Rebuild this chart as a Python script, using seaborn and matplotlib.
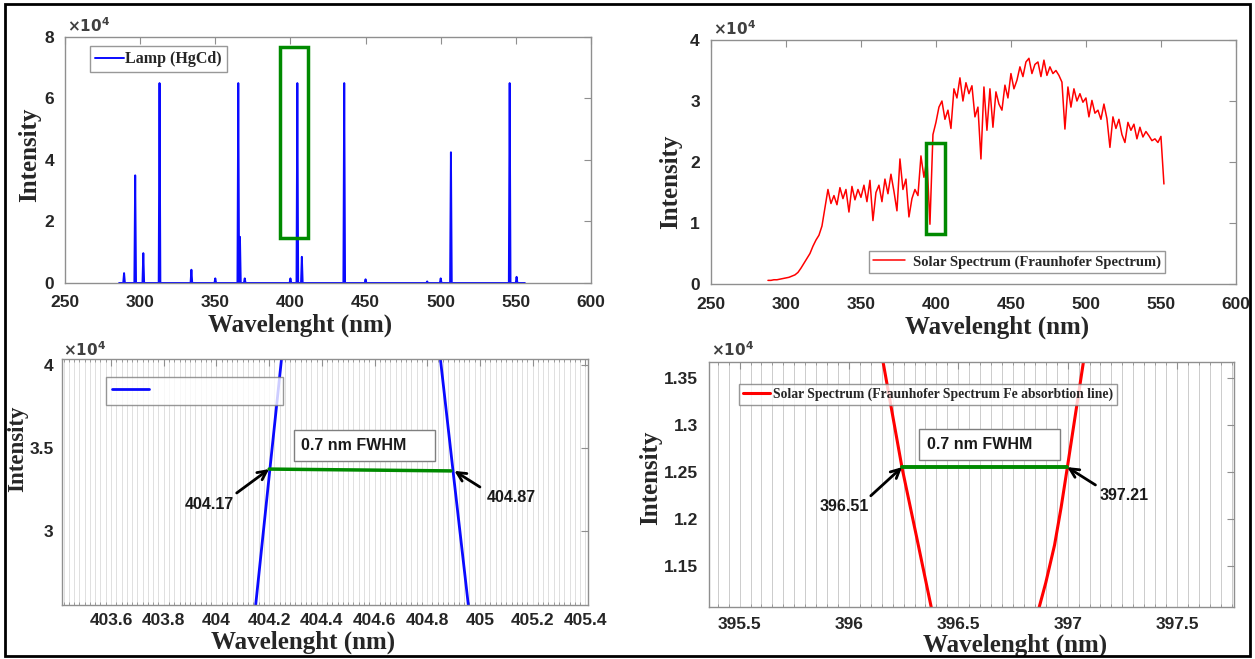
import numpy as np
import pandas as pd
import matplotlib
matplotlib.use("Agg")
import matplotlib.pyplot as plt
import seaborn as sns
from matplotlib.patches import Rectangle
from matplotlib.ticker import FuncFormatter, MultipleLocator, FixedLocator
from matplotlib.font_manager import FontProperties

# ---------------- data (intensities in units of 1e4) ----------------
# Top-left: HgCd lamp emission lines
lamp_peak_wl = [289.3, 296.7, 302.1, 312.9, 334.1, 350.0, 365.3, 366.4, 369.6,
                400.0, 404.6, 407.6, 435.8, 450.0, 491.0, 500.0, 506.8, 545.9, 550.5]
lamp_peak_int = [0.32, 3.5, 0.97, 6.5, 0.43, 0.15, 6.5, 1.5, 0.15,
                 0.15, 6.5, 0.85, 6.5, 0.12, 0.05, 0.15, 4.25, 6.5, 0.2]
lamp_range = [286.0, 556.0]

# Top-right: solar (Fraunhofer) spectrum, sampled every 2 nm from 288 nm
solar_start = 288
solar_int = [
    0.06, 0.06, 0.07, 0.07, 0.08, 0.09, 0.10, 0.11, 0.13, 0.15,
    0.19, 0.26, 0.34, 0.42, 0.50, 0.62, 0.72, 0.80, 0.95, 1.25,
    1.55, 1.32, 1.45, 1.30, 1.58, 1.40, 1.55, 1.18, 1.60, 1.38,
    1.55, 1.42, 1.62, 1.35, 1.70, 1.04, 1.50, 1.62, 1.35, 1.72,
    1.48, 1.80, 1.52, 1.20, 2.05, 1.55, 1.72, 1.10, 1.40, 1.55,
    1.45, 2.10, 1.75, 2.05, 0.98, 2.45, 2.65, 2.90, 3.00, 2.70,
    2.85, 2.55, 3.20, 3.05, 3.38, 3.00, 3.30, 3.12, 3.25, 2.74,
    2.90, 2.05, 3.23, 2.52, 3.20, 2.57, 3.15, 2.95, 2.85, 3.26,
    3.05, 3.45, 3.20, 3.34, 3.56, 3.40, 3.64, 3.70, 3.45, 3.60,
    3.64, 3.40, 3.67, 3.42, 3.56, 3.45, 3.50, 3.42, 3.31, 2.54,
    3.23, 2.90, 3.20, 3.00, 3.12, 2.98, 3.05, 2.74, 3.01, 2.80,
    2.85, 2.70, 2.95, 2.71, 2.24, 2.74, 2.55, 2.70, 2.45, 2.32,
    2.65, 2.52, 2.62, 2.38, 2.57, 2.41, 2.50, 2.43, 2.35, 2.38,
    2.32, 2.42, 1.64]
solar_step = 2

# Bottom-left: zoom of lamp line at 404.6 nm
lamp_zoom_wl = [404.10, 404.149, 404.203, 404.247, 404.40, 404.55, 404.70,
                404.85, 404.898, 404.956, 405.00]
lamp_zoom_int = [1.81, 2.554, 3.373, 4.036, 6.0, 6.5, 6.1, 4.036, 3.361, 2.554, 1.94]
lamp_fwhm_wl = [404.20, 404.89]
lamp_fwhm_int = [3.373, 3.362]

# Bottom-right: zoom of solar absorption line near 396.6 nm
solar_zoom_wl = [396.10, 396.156, 396.243, 396.309, 396.376, 396.45, 396.62,
                 396.80, 396.87, 396.90, 396.94, 396.97, 396.998, 397.072, 397.12]
solar_zoom_int = [1.44, 1.367, 1.254, 1.181, 1.106, 1.03, 0.99,
                  1.05, 1.106, 1.132, 1.172, 1.212, 1.254, 1.367, 1.44]
solar_fwhm_wl = [396.243, 396.998]
solar_fwhm_int = [1.255, 1.255]

lamp_marks = ["404.17", "404.87"]
solar_marks = ["396.51", "397.21"]
fwhm_text = "0.7 nm FWHM"

# highlighted regions (x0, x1, y0, y1)
lamp_box = [393.0, 411.4, 1.46, 7.68]
solar_box = [393.1, 406.2, 0.82, 2.31]

SCALE = 1e4

# ---------------- build tables ----------------
lx, ly = [lamp_range[0]], [0.0]
hw = 0.55
for c, h in zip(lamp_peak_wl, lamp_peak_int):
    lx += [c - hw, c, c + hw]
    ly += [0.0, h, 0.0]
lx.append(lamp_range[1]); ly.append(0.0)
lamp_df = pd.DataFrame({"wl": lx, "I": np.array(ly) * SCALE})

solar_wl = solar_start + solar_step * np.arange(len(solar_int))
solar_df = pd.DataFrame({"wl": solar_wl, "I": np.array(solar_int) * SCALE})
lz_df = pd.DataFrame({"wl": lamp_zoom_wl, "I": np.array(lamp_zoom_int) * SCALE})
lf_df = pd.DataFrame({"wl": lamp_fwhm_wl, "I": np.array(lamp_fwhm_int) * SCALE})
sz_df = pd.DataFrame({"wl": solar_zoom_wl, "I": np.array(solar_zoom_int) * SCALE})
sf_df = pd.DataFrame({"wl": solar_fwhm_wl, "I": np.array(solar_fwhm_int) * SCALE})

# ---------------- style ----------------
sns.set_theme(style="white")
plt.rcParams["font.family"] = ["Liberation Sans", "DejaVu Sans"]
plt.rcParams["font.weight"] = "bold"
plt.rcParams["mathtext.fontset"] = "dejavusans"

SPINE = "#8f8f8f"
TICKC = "#262626"
BLUE = "#0a0aff"
RED = "#ff0000"
GREEN = "#008a00"
serif_lab = dict(family=["Liberation Serif"], weight="bold", size=18)
leg_font = lambda s: FontProperties(family="Liberation Serif", weight="bold", size=s)

fig = plt.figure(figsize=(12.55, 6.59), dpi=100)
ax_tl = fig.add_axes([0.0518, 0.5706, 0.4191, 0.3733])
ax_tr = fig.add_axes([0.5665, 0.5690, 0.4183, 0.3703])
ax_bl = fig.add_axes([0.0494, 0.0819, 0.4191, 0.3733])
ax_br = fig.add_axes([0.5649, 0.0789, 0.4183, 0.3718])

gfmt = FuncFormatter(lambda v, p: f"{v:g}")
yfmt = FuncFormatter(lambda v, p: f"{v / SCALE:g}")


def style_axes(ax, xlim, ylim, xticks, yticks, xlab_pos, ylab_pos, off_pos, xpad,
               ypad=8, ylab_size=18):
    ax.set_xlim(*xlim)
    ax.set_ylim(*ylim)
    ax.xaxis.set_major_locator(FixedLocator(xticks))
    ax.yaxis.set_major_locator(FixedLocator([t * SCALE for t in yticks]))
    ax.xaxis.set_major_formatter(gfmt)
    ax.yaxis.set_major_formatter(yfmt)
    for s in ax.spines.values():
        s.set_color(SPINE)
        s.set_linewidth(1.0)
    ax.tick_params(which="major", direction="in", top=True, right=True, length=5,
                   width=0.8, color=SPINE, labelcolor=TICKC, labelsize=12.5)
    ax.tick_params(axis="x", which="major", pad=xpad)
    ax.tick_params(axis="y", which="major", pad=ypad)
    ax.tick_params(which="minor", direction="in", top=True, bottom=True, length=2.5,
                   width=0.6, color=SPINE)
    for lbl in ax.get_xticklabels() + ax.get_yticklabels():
        lbl.set_fontweight("bold")
    ax.set_xlabel("Wavelenght (nm)", **serif_lab)
    ax.set_ylabel("Intensity", family=["Liberation Serif"], weight="bold", size=ylab_size)
    ax.xaxis.set_label_coords(*xlab_pos)
    ax.xaxis.label.set_va("center")
    ax.yaxis.set_label_coords(*ylab_pos)
    ax.yaxis.label.set_va("center")
    ax.text(off_pos[0], off_pos[1], r"$\times10^{4}$", transform=ax.transAxes,
            ha="left", va="center", fontsize=11, color="#404040", fontweight="normal")
    ax.set_facecolor("white")


# ---- top-left: lamp ----
sns.lineplot(data=lamp_df, x="wl", y="I", ax=ax_tl, color=BLUE, lw=1.4,
             sort=False, estimator=None, label="Lamp (HgCd)")
ax_tl.add_patch(Rectangle((lamp_box[0], lamp_box[2] * SCALE), lamp_box[1] - lamp_box[0],
                          (lamp_box[3] - lamp_box[2]) * SCALE, fill=False,
                          ec=GREEN, lw=2.5, zorder=5))
style_axes(ax_tl, (250, 600), (0, 8 * SCALE), range(250, 601, 50), [0, 2, 4, 6, 8],
           (0.447, -0.171), (-0.068, 0.52), (0.004, 1.045), 9)
h, l = ax_tl.get_legend_handles_labels()
ax_tl.legend(h, l, loc="upper left", bbox_to_anchor=(0.048, 0.962), borderaxespad=0,
             frameon=True, fancybox=False, edgecolor="#7f7f7f", prop=leg_font(11.5),
             handlelength=1.8, handletextpad=0.1, borderpad=0.3)

# ---- top-right: solar ----
sns.lineplot(data=solar_df, x="wl", y="I", ax=ax_tr, color=RED, lw=1.1,
             sort=False, estimator=None, label="Solar Spectrum (Fraunhofer Spectrum)")
ax_tr.add_patch(Rectangle((solar_box[0], solar_box[2] * SCALE), solar_box[1] - solar_box[0],
                          (solar_box[3] - solar_box[2]) * SCALE, fill=False,
                          ec=GREEN, lw=2.5, zorder=5))
style_axes(ax_tr, (250, 600), (0, 4 * SCALE), range(250, 601, 50), [0, 1, 2, 3, 4],
           (0.545, -0.176), (-0.076, 0.42), (0.004, 1.048), 9)
h, l = ax_tr.get_legend_handles_labels()
ax_tr.legend(h, l, loc="lower left", bbox_to_anchor=(0.301, 0.045), borderaxespad=0,
             frameon=True, fancybox=False, edgecolor="#7f7f7f", prop=leg_font(10.5),
             handlelength=2.2, handletextpad=0.5, borderpad=0.3)

# ---- bottom-left: zoom lamp ----
sns.lineplot(data=lz_df, x="wl", y="I", ax=ax_bl, color=BLUE, lw=2.0,
             sort=False, estimator=None, label="\u00a0" * 30)
sns.lineplot(data=lf_df, x="wl", y="I", ax=ax_bl, color=GREEN, lw=2.5,
             sort=False, estimator=None, legend=False)
style_axes(ax_bl, (403.414, 405.41), (2.554 * SCALE, 4.036 * SCALE),
           [403.6 + 0.2 * i for i in range(10)], [3, 3.5, 4],
           (0.458, -0.150), (-0.084, 0.634), (0.002, 1.04), 6, ypad=6, ylab_size=16.5)
ax_bl.xaxis.set_major_formatter(FuncFormatter(lambda v, p: f"{round(v, 2):g}"))
ax_bl.xaxis.set_minor_locator(MultipleLocator(0.02))
ax_bl.grid(which="both", axis="x", color="#dadada", lw=0.6)
ax_bl.set_axisbelow(True)
h, l = ax_bl.get_legend_handles_labels()
ax_bl.legend(h[:1], l[:1], loc="upper left", bbox_to_anchor=(0.084, 0.927), borderaxespad=0,
             frameon=True, fancybox=False, edgecolor="#7f7f7f", prop=leg_font(12),
             handlelength=2.2, handletextpad=0.3, borderpad=0.35)

# ---- bottom-right: zoom solar ----
sns.lineplot(data=sz_df, x="wl", y="I", ax=ax_br, color=RED, lw=2.2,
             sort=False, estimator=None,
             label="Solar Spectrum (Fraunhofer Spectrum Fe absorbtion line)")
sns.lineplot(data=sf_df, x="wl", y="I", ax=ax_br, color=GREEN, lw=2.8,
             sort=False, estimator=None, legend=False)
style_axes(ax_br, (395.36, 397.76), (1.106 * SCALE, 1.367 * SCALE),
           [395.5, 396, 396.5, 397, 397.5], [1.15, 1.2, 1.25, 1.3, 1.35],
           (0.583, -0.158), (-0.112, 0.527), (0.004, 1.049), 7)
ax_br.xaxis.set_minor_locator(MultipleLocator(0.05))
ax_br.grid(which="both", axis="x", color="#cccccc", lw=0.7)
ax_br.set_axisbelow(True)
h, l = ax_br.get_legend_handles_labels()
ax_br.legend(h[:1], l[:1], loc="upper left", bbox_to_anchor=(0.057, 0.912), borderaxespad=0,
             frameon=True, fancybox=False, edgecolor="#7f7f7f", prop=leg_font(9.8),
             handlelength=2.0, handletextpad=0.2, borderpad=0.3)

# ---- FWHM annotations ----
arrow = dict(arrowstyle="->", lw=2.0, color="black", shrinkA=0, shrinkB=0, mutation_scale=16)
numfont = dict(family=["Liberation Sans"], weight="bold", size=11.5, color="#1a1a1a")

# bottom-left
ax_bl.add_patch(Rectangle((404.293, 3.422 * SCALE), 0.537, 0.186 * SCALE, fc="white",
                          ec="#7f7f7f", lw=1.0, zorder=6))
ax_bl.text(404.322, 3.518 * SCALE, fwhm_text, ha="left", va="center", zorder=7, **numfont)
ax_bl.annotate("", xy=(lamp_fwhm_wl[0], lamp_fwhm_int[0] * SCALE),
               xytext=(404.077, 3.229 * SCALE), arrowprops=arrow, zorder=8)
ax_bl.annotate("", xy=(404.903, lamp_fwhm_int[1] * SCALE),
               xytext=(405.0, 3.265 * SCALE), arrowprops=arrow, zorder=8)
ax_bl.text(403.975, 3.157 * SCALE, lamp_marks[0], ha="center", va="center", **numfont)
ax_bl.text(405.119, 3.199 * SCALE, lamp_marks[1], ha="center", va="center", **numfont)

# bottom-right
ax_br.add_patch(Rectangle((396.321, 1.2628 * SCALE), 0.646, 0.0329 * SCALE, fc="white",
                          ec="#7f7f7f", lw=1.0, zorder=6))
ax_br.text(396.355, 1.2787 * SCALE, fwhm_text, ha="left", va="center", zorder=7, **numfont)
ax_br.annotate("", xy=(solar_fwhm_wl[0], solar_fwhm_int[0] * SCALE),
               xytext=(396.10, 1.2245 * SCALE), arrowprops=arrow, zorder=8)
ax_br.annotate("", xy=(solar_fwhm_wl[1], solar_fwhm_int[1] * SCALE),
               xytext=(397.127, 1.236 * SCALE), arrowprops=arrow, zorder=8)
ax_br.text(395.978, 1.2128 * SCALE, solar_marks[0], ha="center", va="center", **numfont)
ax_br.text(397.26, 1.2245 * SCALE, solar_marks[1], ha="center", va="center", **numfont)

# figure border
fig.add_artist(Rectangle((0.004, 0.004), 0.992, 0.990, transform=fig.transFigure,
                         fill=False, ec="black", lw=2.0))

fig.savefig("out.png", dpi=100, facecolor="white")
